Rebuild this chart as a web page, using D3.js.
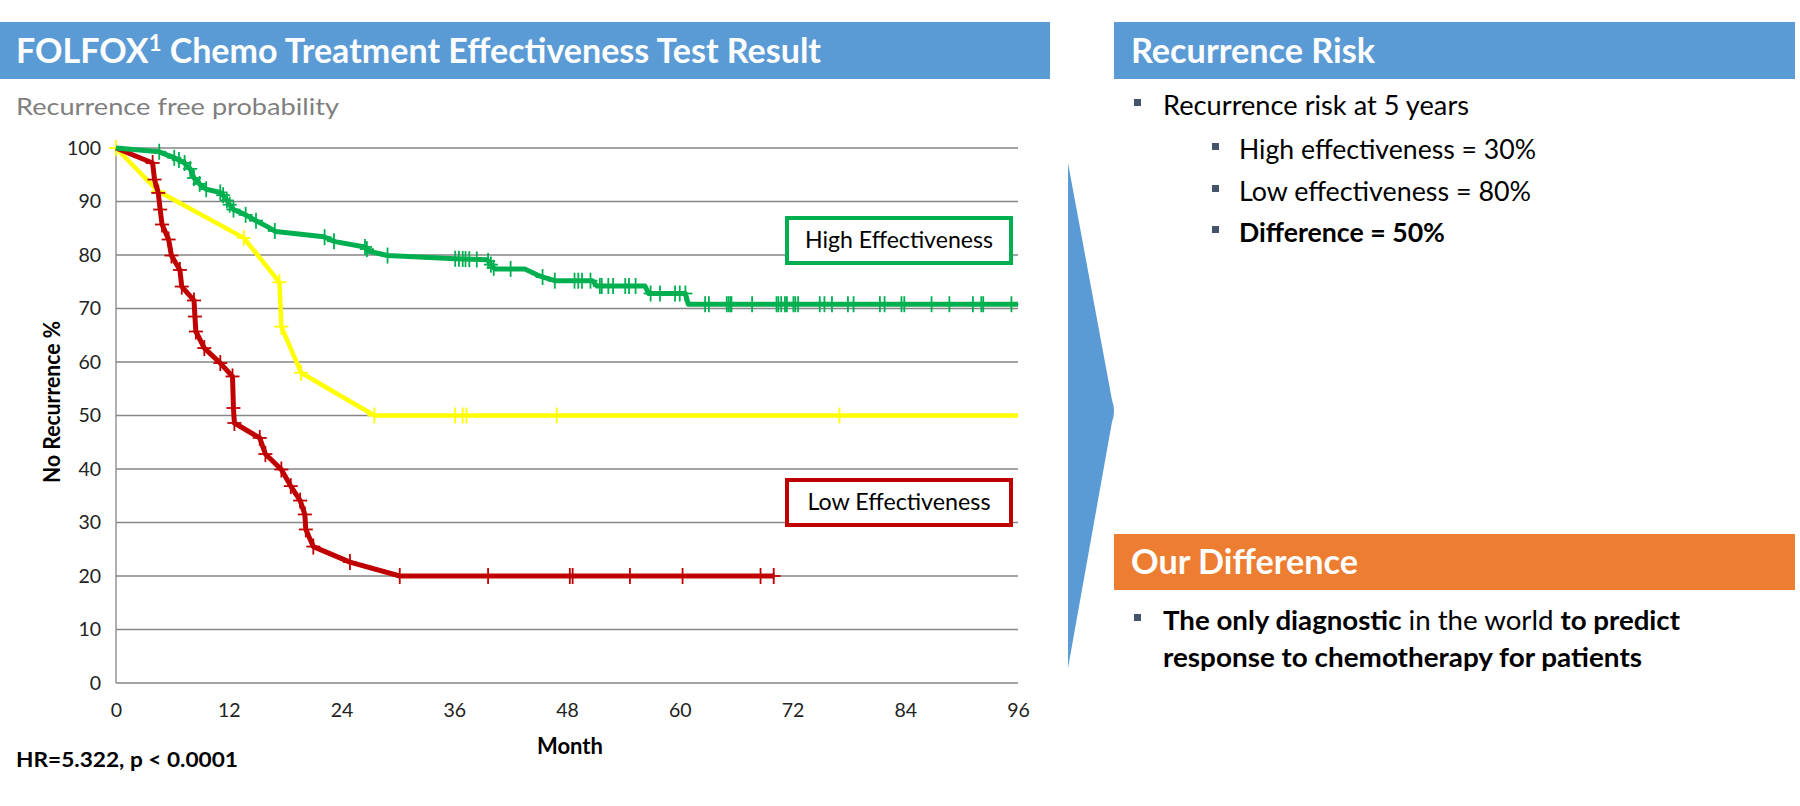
<!DOCTYPE html>
<html><head><meta charset="utf-8">
<script src="https://cdn.jsdelivr.net/npm/d3@7"></script>
<style>body{margin:0;background:#fff;} svg{display:block;font-family:Lato,'Open Sans',sans-serif;}</style>
</head><body><svg id="c" width="1800" height="806"></svg>
<script>
// ---------- data ----------
const monthTicks = [0, 12, 24, 36, 48, 60, 72, 84, 96];
const pctTicks = [0, 10, 20, 30, 40, 50, 60, 70, 80, 90, 100];

const highMonths = [0, 4.6, 5.0, 6.3, 7.3, 7.9, 8.3, 9.0, 9.6, 11.1, 11.5, 12.1, 12.5, 13.8, 14.7, 16.1, 17.0, 22.1, 23.3, 26.5, 26.9, 28.9, 36.1, 39.5, 39.9, 40.3, 43.5, 45.2, 46.7, 50.7, 51.2, 56.3, 56.7, 60.6, 60.9, 96];
const highValues = [100, 99.3, 99.0, 98.1, 97.2, 96.1, 94.4, 93.1, 92.3, 91.7, 91.0, 89.4, 88.5, 87.5, 86.6, 85.3, 84.4, 83.4, 82.5, 81.5, 80.7, 79.9, 79.3, 79.1, 78.2, 77.4, 77.4, 76.0, 75.2, 75.2, 74.2, 74.2, 72.8, 72.8, 70.8, 70.8];
const highCensor = [4.6, 6.2, 6.7, 7.3, 7.9, 8.3, 8.9, 9.6, 11.1, 11.4, 11.8, 12.1, 12.5, 13.8, 14.9, 16.9, 22.2, 23.2, 26.5, 26.7, 28.9, 36.1, 36.5, 36.9, 37.2, 37.6, 38.4, 39.6, 39.9, 40.2, 42.0, 45.4, 46.7, 48.8, 49.2, 49.6, 50.5, 51.5, 51.7, 52.4, 52.9, 54.2, 54.6, 55.3, 56.9, 57.9, 59.5, 60.0, 60.6, 62.7, 63.1, 65.0, 65.2, 65.4, 65.5, 67.7, 70.3, 70.5, 70.8, 71.2, 71.4, 72.1, 72.3, 72.6, 74.9, 75.4, 76.2, 77.9, 78.5, 81.3, 81.8, 83.6, 83.9, 86.8, 88.7, 91.2, 92.1, 92.3, 95.3];

const lowMonths = [0, 3.9, 4.1, 4.5, 4.7, 4.9, 5.6, 5.9, 6.8, 7.0, 8.3, 8.4, 8.5, 9.4, 11.1, 12.4, 12.5, 12.6, 15.3, 15.9, 17.6, 18.6, 19.6, 20.1, 20.2, 21.0, 24.9, 30.2, 70.1];
const lowValues = [100, 97.2, 94.1, 91.6, 88.5, 85.7, 82.9, 79.9, 77.2, 74.1, 71.5, 68.5, 65.7, 62.6, 59.8, 57.3, 51.4, 48.6, 45.8, 42.8, 39.9, 36.8, 34.1, 31.5, 28.7, 25.5, 22.6, 20.0, 20.0];
const lowCensor = [3.9, 4.1, 4.5, 4.7, 4.9, 5.6, 5.9, 6.8, 7.0, 8.3, 8.4, 8.5, 9.4, 11.1, 12.4, 12.5, 12.6, 15.3, 15.9, 17.6, 18.6, 19.6, 20.1, 20.2, 21.0, 24.9, 30.2, 39.6, 48.3, 48.6, 54.7, 60.3, 68.6, 70.0];

const midMonths = [0, 4.5, 13.6, 17.4, 17.6, 19.7, 27.5, 96];
const midValues = [100, 91.9, 83.2, 74.9, 66.6, 58.0, 50.0, 50.0];
const midCensor = [0, 4.5, 13.6, 17.4, 17.6, 19.7, 27.5, 36.1, 36.9, 37.3, 46.9, 77.0];

const seriesNames = ["High Effectiveness", "Low Effectiveness"];
const riskLines = ["High effectiveness = 30%", "Low effectiveness = 80%", "Difference = 50%"];

// ---------- drawing ----------
const svg = d3.select("#c");
const BLUE = "#5b9bd5", ORANGE = "#ed7d31", GREEN = "#00b050", RED = "#c00000", YELLOW = "#ffff00", GRID = "#868686";

const x = d3.scaleLinear().domain([0, 96]).range([116, 1018]);
const y = d3.scaleLinear().domain([0, 100]).range([683, 148]);

// Left title bar
svg.append("rect").attr("x", 0).attr("y", 22).attr("width", 1050).attr("height", 57).attr("fill", BLUE);
const t = svg.append("text").attr("x", 16).attr("y", 63).attr("fill", "#fff").attr("font-weight", "bold").attr("font-size", 34)
  .attr("textLength", 805).attr("lengthAdjust", "spacingAndGlyphs");
t.append("tspan").text("FOLFOX");
t.append("tspan").attr("font-size", 22).attr("dy", -12).text("1");
t.append("tspan").attr("dy", 12).text(" Chemo Treatment Effectiveness Test Result");

svg.append("text").attr("x", 16).attr("y", 115).attr("fill", "#7f7f7f").attr("font-size", 24)
  .attr("textLength", 323).attr("lengthAdjust", "spacingAndGlyphs").text("Recurrence  free probability");

// grid
const g = svg.append("g");
g.selectAll("line.grid").data(pctTicks).join("line").attr("class", "grid")
  .attr("x1", x(0)).attr("x2", x(96)).attr("y1", d => y(d)).attr("y2", d => y(d))
  .attr("stroke", GRID).attr("stroke-width", 1.3);
g.append("line").attr("x1", x(0)).attr("x2", x(0)).attr("y1", y(100)).attr("y2", y(0)).attr("stroke", GRID).attr("stroke-width", 1.3);

// axes via d3
const yAxis = d3.axisLeft(y).tickValues(pctTicks).tickSize(0).tickPadding(15);
const ya = svg.append("g").attr("transform", `translate(${x(0)},0)`).call(yAxis);
ya.select(".domain").remove();
ya.selectAll("text").attr("font-size", 19.5).attr("fill", "#222").attr("font-family", "Lato,'Open Sans',sans-serif");

const xAxis = d3.axisBottom(x).tickValues(monthTicks).tickSize(0).tickPadding(20);
const xa = svg.append("g").attr("transform", `translate(0,${y(0)})`).call(xAxis);
xa.select(".domain").remove();
xa.selectAll("text").attr("font-size", 19.5).attr("fill", "#222").attr("font-family", "Lato,'Open Sans',sans-serif");

// axis titles
svg.append("text").attr("transform", "translate(60,402) rotate(-90)").attr("text-anchor", "middle")
  .attr("font-weight", "bold").attr("font-size", 22).attr("fill", "#000")
  .attr("textLength", 162).attr("lengthAdjust", "spacingAndGlyphs").text("No Recurrence %");
svg.append("text").attr("x", 570).attr("y", 754).attr("text-anchor", "middle")
  .attr("font-weight", "bold").attr("font-size", 22).attr("fill", "#000").text("Month");
svg.append("text").attr("x", 16).attr("y", 767).attr("font-weight", "bold").attr("font-size", 21)
  .attr("textLength", 222).attr("lengthAdjust", "spacingAndGlyphs").attr("fill", "#000").text("HR=5.322, p < 0.0001");

// curves
const line = d3.line().x(d => x(d[0])).y(d => y(d[1]));
function curve(ms, vs, cens, color, w) {
  const pts = ms.map((m, i) => [m, vs[i]]);
  svg.append("path").attr("d", line(pts)).attr("fill", "none").attr("stroke", color)
    .attr("stroke-width", w).attr("stroke-linejoin", "round");
  const interp = m => {
    for (let i = 1; i < ms.length; i++) {
      if (m <= ms[i]) { const f = (m - ms[i-1]) / (ms[i] - ms[i-1] || 1); return vs[i-1] + f * (vs[i] - vs[i-1]); }
    }
    return vs[vs.length - 1];
  };
  const cg = svg.append("g").attr("stroke", color).attr("stroke-width", 1.8);
  cens.forEach(m => {
    const cx = x(m), cy = y(interp(m));
    cg.append("line").attr("x1", cx).attr("x2", cx).attr("y1", cy - 8).attr("y2", cy + 8);
    cg.append("line").attr("x1", cx - 7).attr("x2", cx + 7).attr("y1", cy).attr("y2", cy);
  });
}
curve(midMonths, midValues, midCensor, YELLOW, 4.5);
curve(lowMonths, lowValues, lowCensor, RED, 5);
curve(highMonths, highValues, highCensor, GREEN, 5);

// label boxes
function box(x0, y0, w, h, color, label, tl, by) {
  svg.append("rect").attr("x", x0).attr("y", y0).attr("width", w).attr("height", h)
    .attr("fill", "#fff").attr("stroke", color).attr("stroke-width", 4);
  svg.append("text").attr("x", x0 + w / 2).attr("y", by).attr("text-anchor", "middle").attr("font-size", 23.5)
    .attr("textLength", tl).attr("lengthAdjust", "spacingAndGlyphs").attr("fill", "#000").text(label);
}
box(787, 218, 224, 45, GREEN, seriesNames[0], 188, 248);
box(787, 480, 224, 45, RED, seriesNames[1], 183, 510);

// chevron
svg.append("path").attr("d", "M1068,163 L1112,400 Q1116,411 1112,422 L1068,668 Z").attr("fill", BLUE);

// right panel: Recurrence Risk
svg.append("rect").attr("x", 1114).attr("y", 22).attr("width", 681).attr("height", 57).attr("fill", BLUE);
svg.append("text").attr("x", 1131).attr("y", 63).attr("fill", "#fff").attr("font-weight", "bold").attr("font-size", 34)
  .attr("textLength", 244).attr("lengthAdjust", "spacingAndGlyphs").text("Recurrence Risk");

function bullet(bx, by) {
  svg.append("rect").attr("x", bx).attr("y", by).attr("width", 7).attr("height", 7).attr("fill", "#44546a");
}
bullet(1134, 99);
svg.append("text").attr("x", 1163).attr("y", 115).attr("font-size", 27).attr("fill", "#000")
  .attr("textLength", 306).attr("lengthAdjust", "spacingAndGlyphs").text("Recurrence risk at 5 years");
const subY = [159, 201, 242], subW = [297, 292, 206];
riskLines.forEach((s, i) => {
  bullet(1212, subY[i] - 16);
  svg.append("text").attr("x", 1239).attr("y", subY[i]).attr("font-size", 27).attr("fill", "#000")
    .attr("font-weight", i === 2 ? "bold" : "normal")
    .attr("textLength", subW[i]).attr("lengthAdjust", "spacingAndGlyphs").text(s);
});

// right panel: Our Difference
svg.append("rect").attr("x", 1114).attr("y", 534).attr("width", 681).attr("height", 56).attr("fill", ORANGE);
svg.append("text").attr("x", 1131).attr("y", 574).attr("fill", "#fff").attr("font-weight", "bold").attr("font-size", 34)
  .attr("textLength", 227).attr("lengthAdjust", "spacingAndGlyphs").text("Our Difference");
bullet(1134, 614);
const d1 = svg.append("text").attr("x", 1163).attr("y", 630).attr("font-size", 27).attr("fill", "#000")
  .attr("textLength", 517).attr("lengthAdjust", "spacingAndGlyphs");
d1.append("tspan").attr("font-weight", "bold").text("The only diagnostic");
d1.append("tspan").text(" in the world ");
d1.append("tspan").attr("font-weight", "bold").text("to predict");
svg.append("text").attr("x", 1163).attr("y", 667).attr("font-size", 27).attr("font-weight", "bold").attr("fill", "#000")
  .attr("textLength", 479).attr("lengthAdjust", "spacingAndGlyphs").text("response to chemotherapy for patients");
</script></body></html>
